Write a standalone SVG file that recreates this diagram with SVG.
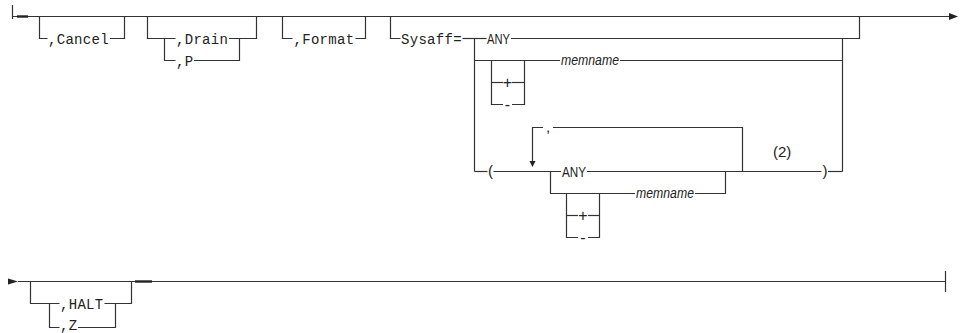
<svg xmlns="http://www.w3.org/2000/svg" width="967" height="333" viewBox="0 0 967 333">
<style>
.ln{fill:none;stroke:#333;stroke-width:1.2}
.thk{fill:none;stroke:#222;stroke-width:2.4}
.ah{fill:#222;stroke:none}
.mono{font-family:"Liberation Mono","DejaVu Sans Mono",monospace;font-size:14px;letter-spacing:0.3px;fill:#222}
.sans{font-family:"Liberation Sans",Arial,sans-serif;font-size:15px;fill:#222}
.sym{font-family:"Liberation Sans",Arial,sans-serif;font-size:16px;fill:#222;text-anchor:middle}
.it{font-style:italic}
</style>
<rect width="967" height="333" fill="#fff"/>
<g id="connectors">
  <path class="ln" d="M12.5,5 V19"/>
  <path class="ln" d="M12.5,16.5 H950"/>
  <path class="thk" d="M17,16.5 H28"/>
  <polygon class="ah" points="949,13 958,16.5 949,20"/>
  <polygon class="ah" points="8,278.5 18,281.5 8,284.5"/>
  <path class="ln" d="M18,281.5 H945.5"/>
  <path class="thk" d="M135,281.5 H152"/>
  <path class="ln" d="M945.5,271 V292"/>
</g>
<g id="cancel">
  <path class="ln" d="M39.5,16.5 V38.5 H47.5"/>
  <text class="mono" x="48" y="43.5">,Cancel</text>
  <path class="ln" d="M110,38.5 H124.5 V16.5"/>
</g>
<g id="drain">
  <path class="ln" d="M147.5,16.5 V38.5 H175.5"/>
  <text class="mono" x="176" y="43.5">,Drain</text>
  <path class="ln" d="M229,38.5 H256.5 V16.5"/>
  <path class="ln" d="M164.5,38.5 V60.5 H175.5"/>
  <text class="mono" x="176" y="65.5">,P</text>
  <path class="ln" d="M194,60.5 H239.5 V38.5"/>
</g>
<g id="format">
  <path class="ln" d="M282.5,16.5 V38.5 H292.5"/>
  <text class="mono" x="293.5" y="43.5">,Format</text>
  <path class="ln" d="M355.5,38.5 H365.5 V16.5"/>
</g>
<g id="sysaff">
  <path class="ln" d="M390.5,16.5 V38.5 H400.5"/>
  <text class="mono" x="401" y="43.5">Sysaff=</text>
  <path class="ln" d="M462.5,38.5 H486.5"/>
  <text class="sans" x="487" y="43.5" textLength="23" lengthAdjust="spacingAndGlyphs">ANY</text>
  <path class="ln" d="M511,38.5 H859.5 V16.5"/>
  <path class="ln" d="M474.5,38.5 V171.5"/>
  <path class="ln" d="M842.5,38.5 V171.5"/>
</g>
<g id="sysaff-memname">
  <path class="ln" d="M474.5,60.5 H560"/>
  <text class="sans it" x="561" y="65" textLength="58" lengthAdjust="spacingAndGlyphs">memname</text>
  <path class="ln" d="M620,60.5 H842.5"/>
  <path class="ln" d="M491.5,60.5 V104.5 H503"/>
  <path class="ln" d="M512,104.5 H524.5 V60.5"/>
  <path class="ln" d="M491.5,82.5 H503"/>
  <path class="ln" d="M512,82.5 H524.5"/>
  <text class="sym" x="507.5" y="88">+</text>
  <text class="sym" x="507.5" y="110">-</text>
</g>
<g id="sysaff-list">
  <path class="ln" d="M474.5,171.5 H487.5"/>
  <text class="sans" x="488" y="176">(</text>
  <path class="ln" d="M493.5,171.5 H561"/>
  <text class="sans" x="562" y="176.5" textLength="24" lengthAdjust="spacingAndGlyphs">ANY</text>
  <path class="ln" d="M587,171.5 H821.5"/>
  <text class="sans" x="822.5" y="176">)</text>
  <path class="ln" d="M828,171.5 H842.5"/>
  <path class="ln" d="M742.5,171.5 V127.5 H553"/>
  <path class="ln" d="M543,127.5 H532.5 V161"/>
  <polygon class="ah" points="529.5,161 535.5,161 532.5,167"/>
  <text class="sans" x="546" y="131.5">,</text>
  <text class="sans" x="773" y="156.5">(2)</text>
  <path class="ln" d="M550.5,171.5 V193.5 H635"/>
  <text class="sans it" x="636" y="198" textLength="58" lengthAdjust="spacingAndGlyphs">memname</text>
  <path class="ln" d="M695,193.5 H725.5 V171.5"/>
  <path class="ln" d="M566.5,193.5 V237.5 H578"/>
  <path class="ln" d="M588,237.5 H599.5 V193.5"/>
  <path class="ln" d="M566.5,215.5 H578"/>
  <path class="ln" d="M588,215.5 H599.5"/>
  <text class="sym" x="583" y="221">+</text>
  <text class="sym" x="583" y="243">-</text>
</g>
<g id="halt">
  <path class="ln" d="M30.5,281.5 V303.5 H59.5"/>
  <text class="mono" x="60" y="308.5">,HALT</text>
  <path class="ln" d="M104.5,303.5 H131.5 V281.5"/>
  <path class="ln" d="M49.5,303.5 V327.5 H59.5"/>
  <text class="mono" x="60" y="330">,Z</text>
  <path class="ln" d="M78,327.5 H115.5 V303.5"/>
</g>
</svg>
